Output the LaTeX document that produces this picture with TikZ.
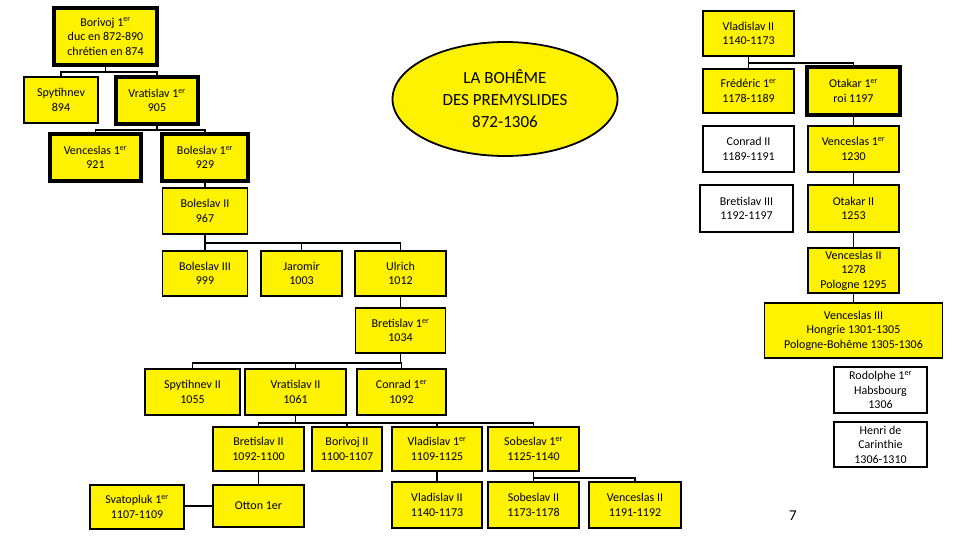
\documentclass[tikz,border=0pt]{standalone}
\usepackage{fontspec}
\setmainfont{Carlito}
\usetikzlibrary{shapes.geometric}
\begin{document}
\begin{tikzpicture}[x=1pt,y=-1pt,
  box/.style={draw=black, fill=yellow, line width=1.8pt, align=center, inner sep=1pt,
     font=\fontsize{12}{14.5}\selectfont},
  wbox/.style={box, fill=white},
  thick box/.style={line width=4pt},
  mid box/.style={line width=2.6pt},
  conn/.style={draw=black, line width=1.8pt}]
\useasboundingbox (0,0) rectangle (960,540);
\newcommand{\er}{\textsuperscript{er}}
% left tree
\node[box,thick box,minimum width=103pt,minimum height=57pt] (bor) at (105.5,36.5) {Borivoj 1\er\\duc en 872-890\\chrétien en 874};
\node[box,minimum width=74pt,minimum height=46pt] (spy) at (61,100) {Spytihnev\\894};
\node[box,thick box,minimum width=82pt,minimum height=47pt] (vra1) at (157,100.5) {Vratislav 1\er\\905};
\node[box,thick box,minimum width=91pt,minimum height=47pt] (ven1) at (95.5,157.5) {Venceslas 1\er\\921};
\node[box,thick box,minimum width=86pt,minimum height=47pt] (bol1) at (205,157.5) {Boleslav 1\er\\929};
\node[box,minimum width=85pt,minimum height=46pt] (bol2) at (205,211) {Boleslav II\\967};
\node[box,minimum width=85pt,minimum height=45pt] (bol3) at (205,273.5) {Boleslav III\\999};
\node[box,minimum width=81pt,minimum height=45pt] (jar) at (301.5,273.5) {Jaromir\\1003};
\node[box,minimum width=91pt,minimum height=45pt] (ulr) at (400.5,273.5) {Ulrich\\1012};
\node[box,minimum width=90pt,minimum height=45pt] (bre1) at (400.5,330.5) {Bretislav 1\er\\1034};
\node[box,minimum width=95pt,minimum height=46pt] (spy2) at (192.5,392) {Spytihnev II\\1055};
\node[box,minimum width=101pt,minimum height=46pt] (vra2) at (295.5,392) {Vratislav II\\1061};
\node[box,minimum width=89pt,minimum height=46pt] (con1) at (401.5,392) {Conrad 1\er\\1092};
\node[box,minimum width=91pt,minimum height=44pt] (bre2) at (258.5,449) {Bretislav II\\1092-1100};
\node[box,minimum width=70pt,minimum height=44pt] (bor2) at (347,449) {Borivoj II\\1100-1107};
\node[box,minimum width=90pt,minimum height=44pt] (vla1) at (437,449) {Vladislav 1\er\\1109-1125};
\node[box,minimum width=91pt,minimum height=44pt] (sob1) at (533.5,449) {Sobeslav 1\er\\1125-1140};
\node[box,minimum width=91pt,minimum height=42pt] (ott) at (258.5,506) {Otton 1er};
\node[box,minimum width=94pt,minimum height=44pt] (sva) at (137,507) {Svatopluk 1\er\\1107-1109};
\node[box,minimum width=90pt,minimum height=46pt] (vla2b) at (437,505) {Vladislav II\\1140-1173};
\node[box,minimum width=91pt,minimum height=46pt] (sob2) at (533.5,505) {Sobeslav II\\1173-1178};
\node[box,minimum width=92pt,minimum height=46pt] (ven2b) at (635,505) {Venceslas II\\1191-1192};
% title
\node[ellipse, draw=black, fill=yellow, line width=1.8pt, minimum width=225pt, minimum height=114pt,
  inner sep=0pt, align=center, font=\fontsize{17}{22}\selectfont] (title) at (505,99)
  {LA BOHÊME\\DES PREMYSLIDES\\872-1306};
% right tree
\node[box,mid box,minimum width=91pt,minimum height=45pt] (vla2t) at (748.5,33.5) {Vladislav II\\1140-1173};
\node[box,minimum width=91pt,minimum height=44pt] (fre) at (748.5,91) {Frédéric 1\er\\1178-1189};
\node[box,thick box,minimum width=93pt,minimum height=48pt] (ota1) at (853.5,91) {Otakar 1\er\\roi 1197};
\node[wbox,minimum width=91pt,minimum height=46pt] (con2) at (748.5,149) {Conrad II\\1189-1191};
\node[box,minimum width=91pt,minimum height=46pt] (ven1r) at (853.5,149) {Venceslas 1\er\\1230};
\node[wbox,minimum width=93pt,minimum height=47pt] (bre3) at (746.5,208.5) {Bretislav III\\1192-1197};
\node[box,minimum width=91pt,minimum height=47pt] (ota2) at (853.5,208.5) {Otakar II\\1253};
\node[box,minimum width=91pt,minimum height=45pt] (ven2r) at (853.5,270.5) {Venceslas II\\1278\\Pologne 1295};
\node[box,minimum width=178pt,minimum height=55pt] (ven3) at (853.5,330.5) {Venceslas III\\Hongrie 1301-1305\\Pologne-Bohême 1305-1306};
\node[wbox,minimum width=93pt,minimum height=46pt] (rod) at (880.5,390) {Rodolphe 1\er\\Habsbourg\\1306};
\node[wbox,minimum width=93pt,minimum height=45pt] (hen) at (880.5,444.5) {Henri de\\Carinthie\\1306-1310};
\node[font=\fontsize{15}{16}\selectfont, inner sep=0pt] (pg) at (793,516) {7};
% connectors
\path[conn] (bor.south) -- ++(0,5) -| (spy.north);
\path[conn] (bor.south) -- ++(0,5) -| (vra1.north);
\path[conn] (vra1.south) -- ++(0,4) -| (ven1.north);
\path[conn] (vra1.south) -- ++(0,4) -| (bol1.north);
\path[conn] (bol1.south) -- (bol2.north);
\path[conn] (bol2.south) -- ++(0,8) -| (bol3.north);
\path[conn] (bol2.south) -- ++(0,8) -| (jar.north);
\path[conn] (bol2.south) -- ++(0,8) -| (ulr.north);
\path[conn] (ulr.south) -- (bre1.north);
\path[conn] (bre1.south) -- ++(0,9) -| (spy2.north);
\path[conn] (bre1.south) -- ++(0,9) -| (vra2.north);
\path[conn] (bre1.south) -- ++(0,9) -| (con1.north);
\path[conn] (vra2.south) -- ++(0,7) -| (bre2.north);
\path[conn] (vra2.south) -- ++(0,7) -| (bor2.north);
\path[conn] (vra2.south) -- ++(0,7) -| (vla1.north);
\path[conn] (vra2.south) -- ++(0,7) -| (sob1.north);
\path[conn] (bre2.south) -- (ott.north);
\path[conn] (sva.east |- ott.west) -- (ott.west);
\path[conn] (vla1.south) -- (vla2b.north);
\path[conn] (sob1.south) -- ++(0,6) -| (sob2.north);
\path[conn] (sob1.south) -- ++(0,6) -| (ven2b.north);
\path[conn] (vla2t.south) -- ++(0,6) -| (fre.north);
\path[conn] (vla2t.south) -- ++(0,6) -| (ota1.north);
\path[conn] (ota1.south) -- (ven1r.north);
\path[conn] (ven1r.south) -- (ota2.north);
\path[conn] (ota2.south) -- (ven2r.north);
\path[conn] (ven2r.south) -- (ven3.north);
\end{tikzpicture}
\end{document}
